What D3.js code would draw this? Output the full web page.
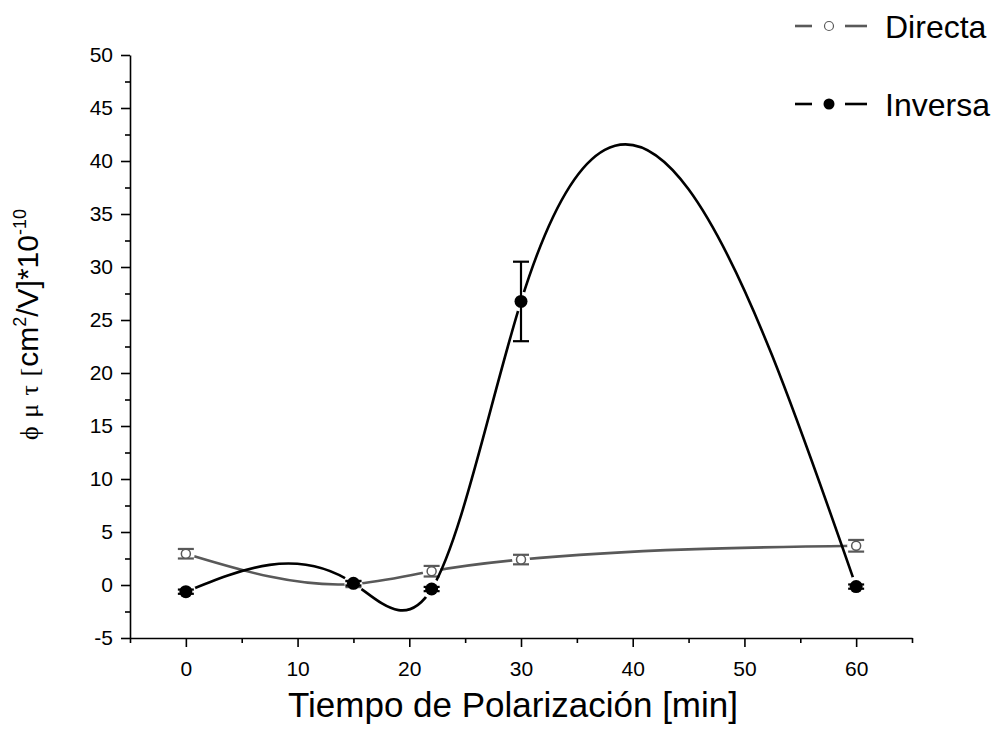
<!DOCTYPE html>
<html lang="en">
<head>
  <meta charset="UTF-8">
  <title>Tiempo de Polarización</title>
  <style>
    body { margin: 0; background: #fff; }
    svg { display: block; font-family: Arial, "Liberation Sans", sans-serif; }
    .axis path, .axis line { stroke: #000; stroke-width: 1.6px; }
    .axis text { font-size: 21px; fill: #000; font-family: Arial, "Liberation Sans", sans-serif; }
  </style>
</head>
<body>
  <svg id="chart" width="997" height="730"></svg>
  <script src="https://d3js.org/d3.v7.min.js"></script>
  <script>
    // data
    const tiempos = [0, 15, 22, 30, 60];
    const directa = [2.95, 0.1, 1.3, 2.4, 3.7];
    const directaErr = [0.45, 0.3, 0.5, 0.45, 0.55];
    const inversa = [-0.63, 0.16, -0.38, 26.75, -0.15];
    const inversaErr = [0.2, 0.2, 0.2, 3.75, 0.2];
    const xMajor = [0, 10, 20, 30, 40, 50, 60];
    const yMajor = [-5, 0, 5, 10, 15, 20, 25, 30, 35, 40, 45, 50];

    const svg = d3.select("#chart");
    const x = d3.scaleLinear().domain([-5, 65]).range([130, 912]);
    const y = d3.scaleLinear().domain([-5, 50]).range([638, 55]);

    // natural cubic spline y(x), emitted as bezier segments
    function curveSplineX(context) {
      let pts;
      return {
        areaStart() {}, areaEnd() {},
        lineStart() { pts = []; },
        point(px, py) { pts.push([+px, +py]); },
        lineEnd() {
          const n = pts.length;
          if (!n) return;
          context.moveTo(pts[0][0], pts[0][1]);
          if (n < 3) { pts.slice(1).forEach(p => context.lineTo(p[0], p[1])); return; }
          const h = [], s = [];
          for (let i = 0; i < n - 1; i++) {
            h.push(pts[i + 1][0] - pts[i][0]);
            s.push((pts[i + 1][1] - pts[i][1]) / h[i]);
          }
          // tridiagonal system for second derivatives, M0 = Mn-1 = 0
          const m = n - 2, a = [], b = [], c = [], r = [];
          for (let i = 1; i <= m; i++) {
            a.push(h[i - 1]); b.push(2 * (h[i - 1] + h[i])); c.push(h[i]);
            r.push(6 * (s[i] - s[i - 1]));
          }
          for (let i = 1; i < m; i++) {
            const w = a[i] / b[i - 1];
            b[i] -= w * c[i - 1];
            r[i] -= w * r[i - 1];
          }
          const M = new Array(n).fill(0);
          for (let i = m - 1; i >= 0; i--) {
            M[i + 1] = (r[i] - (i < m - 1 ? c[i] * M[i + 2] : 0)) / b[i];
          }
          for (let i = 0; i < n - 1; i++) {
            const d0 = s[i] - h[i] * (2 * M[i] + M[i + 1]) / 6;
            const d1 = s[i] + h[i] * (M[i] + 2 * M[i + 1]) / 6;
            const [x0, y0] = pts[i], [x1, y1] = pts[i + 1];
            context.bezierCurveTo(x0 + h[i] / 3, y0 + d0 * h[i] / 3,
                                  x1 - h[i] / 3, y1 - d1 * h[i] / 3, x1, y1);
          }
        }
      };
    }

    const series = [
      { name: "Directa", values: directa, err: directaErr, color: "#595959", filled: false, gap: 9 },
      { name: "Inversa", values: inversa, err: inversaErr, color: "#000", filled: true, gap: 10 }
    ];

    const line = d3.line().x(d => x(d[0])).y(d => y(d[1])).curve(curveSplineX);
    const defs = svg.append("defs");

    series.forEach((s, k) => {
      const pts = tiempos.map((t, i) => [t, s.values[i], s.err[i]]);

      // line broken around its markers
      const mask = defs.append("mask").attr("id", "gap" + k)
        .attr("maskUnits", "userSpaceOnUse")
        .attr("x", 0).attr("y", 0).attr("width", 997).attr("height", 730);
      mask.append("rect").attr("width", 997).attr("height", 730).attr("fill", "#fff");
      mask.selectAll("circle").data(pts).join("circle")
        .attr("cx", d => x(d[0])).attr("cy", d => y(d[1])).attr("r", s.gap).attr("fill", "#000");

      const g = svg.append("g");
      g.append("path")
        .datum(pts)
        .attr("d", line)
        .attr("fill", "none")
        .attr("stroke", s.color)
        .attr("stroke-width", 2.6)
        .attr("mask", `url(#gap${k})`);

      const eb = g.append("g").attr("stroke", s.color).attr("stroke-width", 2.2);
      eb.selectAll("line.v").data(pts).join("line").attr("class", "v")
        .attr("x1", d => x(d[0])).attr("x2", d => x(d[0]))
        .attr("y1", d => y(d[1] + d[2])).attr("y2", d => y(d[1] - d[2]));
      eb.selectAll("line.t").data(pts).join("line").attr("class", "t")
        .attr("x1", d => x(d[0]) - 8).attr("x2", d => x(d[0]) + 8)
        .attr("y1", d => y(d[1] + d[2])).attr("y2", d => y(d[1] + d[2]));
      eb.selectAll("line.b").data(pts).join("line").attr("class", "b")
        .attr("x1", d => x(d[0]) - 8).attr("x2", d => x(d[0]) + 8)
        .attr("y1", d => y(d[1] - d[2])).attr("y2", d => y(d[1] - d[2]));

      g.selectAll("circle").data(pts).join("circle")
        .attr("cx", d => x(d[0])).attr("cy", d => y(d[1]))
        .attr("r", s.filled ? 6.5 : 4.5)
        .attr("fill", s.filled ? s.color : "#fff")
        .attr("stroke", s.color)
        .attr("stroke-width", s.filled ? 0 : 1.5);
    });

    // axes
    const fmt = d => String(d);
    svg.append("g").attr("class", "axis").attr("transform", "translate(0,638)")
      .call(d3.axisBottom(x).tickValues(xMajor).tickSize(9).tickSizeOuter(0).tickPadding(14).tickFormat(fmt));
    svg.append("g").attr("class", "axis").attr("transform", "translate(0,638)")
      .call(d3.axisBottom(x).tickValues(d3.range(-5, 66, 10)).tickSize(5).tickSizeOuter(0).tickFormat(""))
      .select(".domain").remove();

    svg.append("g").attr("class", "axis").attr("transform", "translate(130,0)")
      .call(d3.axisLeft(y).tickValues(yMajor).tickSize(9).tickSizeOuter(0).tickPadding(8).tickFormat(fmt));
    svg.append("g").attr("class", "axis").attr("transform", "translate(130,0)")
      .call(d3.axisLeft(y).tickValues(d3.range(-2.5, 50, 5)).tickSize(5).tickSizeOuter(0).tickFormat(""))
      .select(".domain").remove();

    // titles
    svg.append("text")
      .attr("x", 513).attr("y", 717)
      .attr("text-anchor", "middle")
      .attr("font-size", 35)
      .text("Tiempo de Polarización [min]");

    const yl = svg.append("text")
      .attr("transform", "translate(38,440) rotate(-90)")
      .attr("text-anchor", "start");
    yl.append("tspan").attr("font-family", "'Liberation Serif', serif").attr("font-size", 26)
      .attr("letter-spacing", 1).text("ϕ μ τ [");
    yl.append("tspan").attr("font-size", 30).text("cm");
    yl.append("tspan").attr("font-size", 18).attr("dy", -12).text("2");
    yl.append("tspan").attr("font-size", 30).attr("dy", 12).text("/V]*10");
    yl.append("tspan").attr("font-size", 18).attr("dy", -12).text("-10");

    // legend
    const legend = svg.append("g");
    series.forEach((s, k) => {
      const ly = 26 + k * 78;
      const g = legend.append("g").attr("transform", `translate(0,${ly})`);
      g.append("line").attr("x1", 795).attr("x2", 812).attr("y1", 0).attr("y2", 0)
        .attr("stroke", s.color).attr("stroke-width", 2.6);
      g.append("line").attr("x1", 845).attr("x2", 867).attr("y1", 0).attr("y2", 0)
        .attr("stroke", s.color).attr("stroke-width", 2.6);
      g.append("circle").attr("cx", 829).attr("cy", 0).attr("r", s.filled ? 5.5 : 4.5)
        .attr("fill", s.filled ? s.color : "#fff")
        .attr("stroke", s.color).attr("stroke-width", s.filled ? 0 : 1.2);
      g.append("text").attr("x", 885).attr("y", 0).attr("dy", "0.36em")
        .attr("font-size", 32).text(s.name);
    });
  </script>
</body>
</html>
